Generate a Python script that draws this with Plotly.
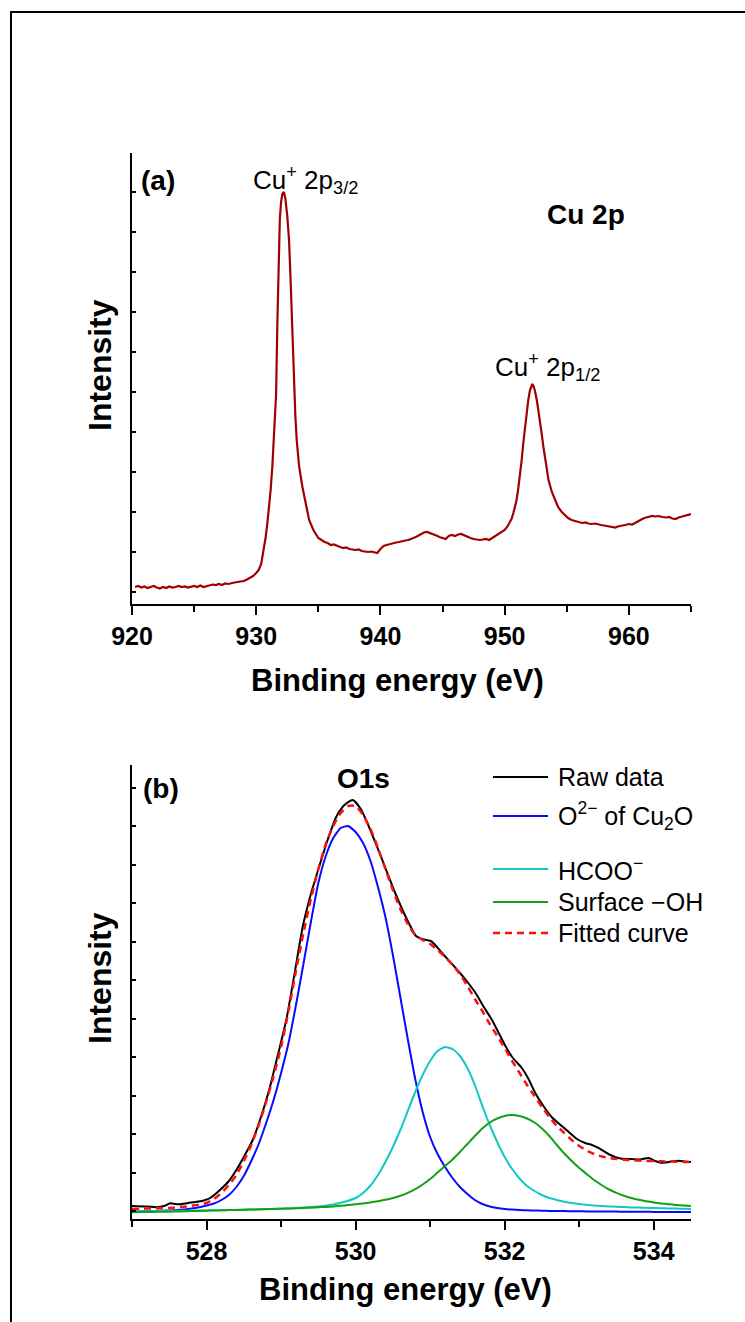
import plotly.graph_objects as go

W, H = 745, 1322

# ---------------- Cu 2p survey (panel a) ----------------
cu_be = [920.25, 920.5, 920.75, 921.0, 921.25, 921.5, 921.75, 922.0, 922.25, 922.5,
         922.75, 923.0, 923.25, 923.5, 923.75, 924.0, 924.25, 924.5, 924.75, 925.0,
         925.25, 925.5, 925.75, 926.0, 926.25, 926.5, 926.75, 927.0, 927.25, 927.5,
         927.75, 928.0, 928.25, 928.5, 928.75, 929.0, 929.25, 929.5, 929.75, 930.0,
         930.2, 930.4, 930.6, 930.75, 930.9, 931.05, 931.16, 931.3, 931.42, 931.52,
         931.6, 931.7, 931.8, 931.9, 932.0, 932.1, 932.23, 932.35, 932.5, 932.64,
         932.75, 932.83, 932.95, 933.04, 933.15, 933.26, 933.45, 933.72, 934.0, 934.26,
         934.6, 935.0, 935.25, 935.5, 935.75, 936.0, 936.25, 936.5, 936.75, 937.0,
         937.25, 937.5, 937.75, 938.0, 938.25, 938.5, 938.75, 939.0, 939.25, 939.5,
         939.75, 940.0, 940.25, 940.5, 940.75, 941.0, 941.25, 941.5, 941.75, 942.0,
         942.25, 942.5, 942.75, 943.0, 943.25, 943.5, 943.75, 944.0, 944.25, 944.5,
         944.75, 945.0, 945.25, 945.5, 945.75, 946.0, 946.25, 946.5, 946.75, 947.0,
         947.25, 947.5, 947.75, 948.0, 948.25, 948.5, 948.75, 949.0, 949.25, 949.5,
         949.75, 950.0, 950.2, 950.4, 950.55, 950.7, 950.85, 950.96, 951.1, 951.25,
         951.37, 951.5, 951.65, 951.77, 951.9, 952.04, 952.15, 952.23, 952.32, 952.44,
         952.6, 952.77, 952.95, 953.12, 953.3, 953.53, 953.8, 954.06, 954.3, 954.6,
         954.87, 955.1, 955.4, 955.7, 955.95, 956.25, 956.5, 956.75, 957.0, 957.29,
         957.5, 957.75, 958.0, 958.25, 958.5, 958.75, 958.91, 959.1, 959.4, 959.7,
         960.0, 960.26, 960.5, 960.75, 961.0, 961.25, 961.5, 961.88, 962.1, 962.4,
         962.7, 963.0, 963.23, 963.5, 963.76, 964.0, 964.3, 964.6, 964.85, 965.0]
cu_int = [17, 18, 16.5, 17.5, 16, 17, 18, 16.5, 15.5, 17,
          16, 17.5, 16.5, 17, 18, 17, 17.5, 16.5, 17.5, 18,
          17, 18.5, 17, 18, 18.5, 19.5, 19, 20, 19, 20.5,
          20, 21, 21.5, 22, 22.5, 23, 24.5, 26, 28, 31,
          34, 40, 53, 66, 81, 98, 114, 138, 164, 190,
          210, 280, 345, 385, 402, 410, 412, 405, 388, 364,
          330, 297, 250, 214, 188, 164, 138, 117, 98, 84,
          74, 66, 64, 62, 61, 59, 59.5, 58, 57, 56,
          56.5, 55, 54.5, 54, 54.5, 53, 52.5, 52, 52.5, 51.5,
          51, 55, 58, 59, 60, 61, 61.5, 62, 63, 63.5,
          64, 65, 66.5, 68, 70, 71.5, 72, 71, 70, 68.5,
          67, 66, 65, 68, 69, 68, 69.5, 70, 68.5, 67,
          66, 65, 64.5, 64, 64.5, 65, 64, 66, 67.5, 70,
          72, 74, 77, 81, 85, 91, 98, 104, 116, 130,
          144, 161, 178, 191, 204, 214, 219, 220, 218, 213,
          203, 190, 173, 157, 140, 124, 112, 104, 97, 92,
          89, 86, 84, 82.5, 82, 81, 81.5, 80.5, 80, 80.5,
          79.5, 79, 78.5, 78, 77.5, 77, 76.5, 77.5, 78, 79,
          80, 79.5, 81, 83, 84.5, 86, 87, 88, 87.5, 88,
          87, 86.5, 87, 85.5, 85, 86.5, 87.5, 88.5, 89.5, 90]

# ---------------- O 1s region (panel b) ----------------
o_raw_be = [527.0, 527.2, 527.33, 527.45, 527.51, 527.58, 527.64, 527.75, 527.85, 527.95,
            528.05, 528.18, 528.3, 528.4, 528.5, 528.62, 528.73, 528.84, 528.95, 529.07,
            529.18, 529.29, 529.4, 529.51, 529.62, 529.74, 529.85, 529.96, 530.07, 530.18,
            530.3, 530.41, 530.52, 530.63, 530.72, 530.81, 530.89, 530.95, 531.01, 531.08,
            531.16, 531.27, 531.39, 531.5, 531.61, 531.72, 531.83, 531.92, 532.01, 532.1,
            532.23, 532.32, 532.41, 532.52, 532.63, 532.75, 532.86, 532.97, 533.08, 533.17,
            533.26, 533.37, 533.48, 533.6, 533.7, 533.82, 533.93, 534.02, 534.1, 534.2,
            534.33, 534.42, 534.5]
o_raw = [13, 12.5, 11.7, 13.5, 15.7, 15, 14.7, 16, 17, 18.3,
         21, 29, 38, 49, 62, 79, 102, 129, 162, 199,
         245, 292, 325, 352, 378, 402, 414, 419, 410, 392,
         370, 349, 328, 309, 295, 283, 280, 279, 278, 273,
         266, 257, 247, 237, 226, 212, 199, 186, 173, 162,
         151, 140, 126, 113, 102, 94, 87, 80, 76, 74,
         71, 66, 62, 60, 60, 59.5, 61, 58, 56.3, 57,
         58.3, 57.5, 57]

# fitted components share one energy grid (0.1 eV steps, 527.0 - 534.5)
fit_be = [527.0, 527.1, 527.2, 527.3, 527.4, 527.5, 527.6, 527.7, 527.8, 527.9,
          528.0, 528.1, 528.2, 528.3, 528.4, 528.5, 528.6, 528.7, 528.8, 528.9,
          529.0, 529.1, 529.2, 529.3, 529.4, 529.5, 529.6, 529.7, 529.8, 529.9,
          530.0, 530.1, 530.2, 530.3, 530.4, 530.5, 530.6, 530.7, 530.8, 530.9,
          531.0, 531.1, 531.2, 531.3, 531.4, 531.5, 531.6, 531.7, 531.8, 531.9,
          532.0, 532.1, 532.2, 532.3, 532.4, 532.5, 532.6, 532.7, 532.8, 532.9,
          533.0, 533.1, 533.2, 533.3, 533.4, 533.5, 533.6, 533.7, 533.8, 533.9,
          534.0, 534.1, 534.2, 534.3, 534.4, 534.5]
o_cu2o = [7.5, 7.6, 7.8, 8.0, 8.3, 8.6, 9.0, 9.6, 10.5, 11.8,
          13.5, 15.5, 19, 24, 32, 43, 58, 75, 96, 119,
          146, 176, 214, 255, 297, 336, 363, 381, 391, 393,
          387, 376, 358, 332, 302, 264, 222, 180, 140, 107,
          82, 65, 52, 41, 32, 25, 19, 15, 12.5, 11,
          10, 9.4, 9.0, 8.7, 8.5, 8.3, 8.1, 8.0, 7.9, 7.8,
          7.7, 7.6, 7.5, 7.5, 7.4, 7.4, 7.3, 7.3, 7.2, 7.2,
          7.1, 7.1, 7.0, 7.0, 7.0, 7.0]
o_hcoo = [7.6, 7.7, 7.8, 7.9, 8.0, 8.1, 8.2, 8.3, 8.4, 8.5,
          8.6, 8.7, 8.8, 8.9, 9.0, 9.2, 9.4, 9.6, 9.8, 10.0,
          10.3, 10.6, 11.0, 11.4, 11.9, 12.5, 13.3, 14.5, 16.2, 18.3,
          21, 26, 33.5, 44, 57, 72, 89, 108, 127, 144,
          158, 168, 172, 170, 163, 151, 134, 113, 94, 77,
          62, 50, 40.5, 33, 28, 24, 21, 19, 17.3, 16,
          15, 14.2, 13.5, 13, 12.6, 12.2, 11.9, 11.6, 11.4, 11.2,
          11.0, 10.8, 10.6, 10.4, 10.2, 10.0]
o_oh = [6.8, 6.9, 7.0, 7.1, 7.2, 7.3, 7.5, 7.7, 7.9, 8.1,
        8.3, 8.5, 8.7, 8.9, 9.1, 9.3, 9.5, 9.7, 9.9, 10.1,
        10.3, 10.5, 10.7, 11.0, 11.3, 11.7, 12.1, 12.6, 13.2, 13.9,
        14.7, 15.6, 16.6, 17.8, 19.2, 21.0, 23.3, 26.2, 29.8, 34.5,
        40, 46.5, 53, 59.5, 67, 75, 83, 90.5, 96.5, 100.5,
        103, 104, 103, 100.5, 96.5, 90.5, 83, 74, 65.5, 58,
        51, 45, 39, 34, 29.5, 26.2, 23.3, 21.0, 19.2, 17.8,
        16.6, 15.6, 14.8, 14.1, 13.5, 13.0]
o_fit = [10, 10.2, 10.4, 10.6, 10.8, 11.1, 11.6, 12.3, 13.2, 14.4,
         16, 20, 26, 34, 44, 58, 74, 94, 117, 143,
         172, 208, 248, 286, 320, 350, 375, 393, 406, 413,
         413, 404, 390, 371, 350, 329, 310, 295, 284, 279,
         275, 269, 262, 254, 245, 233, 220, 208, 195, 183,
         171, 158, 146, 134, 123, 112, 102, 93, 86, 79,
         73, 68.5, 65, 62.5, 61, 60, 59.3, 58.8, 58.4, 58.1,
         57.9, 57.7, 57.5, 57.3, 57.1, 57]

legend_labels = ["Raw data", "O<sup>2\u2212</sup> of Cu<sub>2</sub>O", "HCOO<sup>\u2212</sup>",
                 "Surface \u2212OH", "Fitted curve"]

FONT = "Liberation Sans, Arial, sans-serif"
DARK_RED = "#a00000"
BLUE = "#0a0aff"
CYAN = "#10c8c8"
GREEN = "#13a013"
RED = "#ff1010"


def px(x):
    return x / W


def py(y):
    return 1 - y / H


fig = go.Figure()

fig.add_trace(go.Scatter(x=cu_be, y=cu_int, mode="lines", xaxis="x", yaxis="y",
                         line=dict(color=DARK_RED, width=2.2), showlegend=False))

fig.add_trace(go.Scatter(x=o_raw_be, y=o_raw, mode="lines", xaxis="x2", yaxis="y2",
                         line=dict(color="black", width=2, shape="spline", smoothing=0.6),
                         showlegend=False))
for vals, col in [(o_cu2o, BLUE), (o_hcoo, CYAN), (o_oh, GREEN)]:
    fig.add_trace(go.Scatter(x=fit_be, y=vals, mode="lines", xaxis="x2", yaxis="y2",
                             line=dict(color=col, width=2, shape="spline", smoothing=0.5),
                             showlegend=False))
fig.add_trace(go.Scatter(x=fit_be, y=o_fit, mode="lines", xaxis="x2", yaxis="y2",
                         line=dict(color=RED, width=2.5, dash="7px,5px", shape="spline",
                                   smoothing=0.5),
                         showlegend=False))

X0, X1 = 132, 691
TOP_Y0, TOP_Y1 = 153, 604
BOT_Y0, BOT_Y1 = 765, 1219

xcommon = dict(showline=True, linecolor="black", linewidth=2, ticks="outside",
               ticklen=9, tickwidth=2, tickcolor="black", showgrid=False, zeroline=False,
               tickfont=dict(family=FONT, size=25, color="black", weight="bold"),
               automargin=False, mirror=False)
ycommon = dict(showline=True, linecolor="black", linewidth=2, ticks="inside",
               ticklen=4, tickwidth=1.5, tickcolor="black", showticklabels=False,
               showgrid=False, zeroline=False, automargin=False)

fig.update_layout(
    width=W, height=H,
    margin=dict(l=0, r=0, t=0, b=0),
    paper_bgcolor="white", plot_bgcolor="white",
    showlegend=False,
    xaxis=dict(xcommon, domain=[px(X0), px(X1)], range=[920, 965], anchor="y",
               tick0=920, dtick=10,
               minor=dict(ticks="outside", ticklen=6, tickwidth=2, tickcolor="black",
                          dtick=5, tick0=920, showgrid=False)),
    yaxis=dict(ycommon, domain=[py(TOP_Y1), py(TOP_Y0)], range=[0, 451], anchor="x",
               tick0=12, dtick=40),
    xaxis2=dict(xcommon, domain=[px(X0), px(X1)], range=[527, 534.5], anchor="y2",
                tick0=528, dtick=2,
                minor=dict(ticks="outside", ticklen=6, tickwidth=2, tickcolor="black",
                           dtick=1, tick0=527, showgrid=False)),
    yaxis2=dict(ycommon, domain=[py(BOT_Y1), py(BOT_Y0)], range=[0, 454], anchor="x2",
                tick0=8, dtick=38.5),
)

annotations = []


def label(text, x, y, size, bold=False, xanchor="center", yanchor="middle", angle=0):
    annotations.append(dict(
        text=text, x=px(x), y=py(y), xref="paper", yref="paper",
        xanchor=xanchor, yanchor=yanchor, showarrow=False, textangle=angle,
        font=dict(family=FONT, size=size, color="black",
                  weight="bold" if bold else "normal")))


# axis titles
label("Binding energy (eV)", 397, 680, 31, bold=True)
label("Binding energy (eV)", 405, 1289, 31, bold=True)
label("Intensity", 100, 365, 32, bold=True, angle=-90)
label("Intensity", 100, 978, 32, bold=True, angle=-90)

# panel a texts
label("(a)", 158, 180, 28, bold=True)
label("Cu 2p", 586, 214, 28, bold=True)
label("Cu<sup>+</sup> 2p<sub>3/2</sub>", 251, 180, 26, xanchor="left")
label("Cu<sup>+</sup> 2p<sub>1/2</sub>", 493, 367, 26, xanchor="left")

# panel b texts
label("(b)", 161, 788, 28, bold=True)
label("O1s", 363, 778, 28, bold=True)

# hand-placed legend for panel b
legend_rows = [777, 816, 869, 902, 933]
legend_styles = [("black", None), (BLUE, None), (CYAN, None), (GREEN, None), (RED, "7px,5px")]
shapes = []
for text, yrow, (col, dash) in zip(legend_labels, legend_rows, legend_styles):
    line = dict(color=col, width=2.5 if dash else 2)
    if dash:
        line["dash"] = dash
    shapes.append(dict(type="line", xref="paper", yref="paper",
                       x0=px(493), x1=px(548), y0=py(yrow), y1=py(yrow), line=line))
    label(text, 556, yrow, 25, xanchor="left")

# outer frame
shapes.append(dict(type="rect", xref="paper", yref="paper",
                   x0=px(11), x1=px(760), y0=py(1340), y1=py(12),
                   line=dict(color="black", width=2), fillcolor="rgba(0,0,0,0)"))

fig.update_layout(annotations=annotations, shapes=shapes)

fig.write_html("out.html")
